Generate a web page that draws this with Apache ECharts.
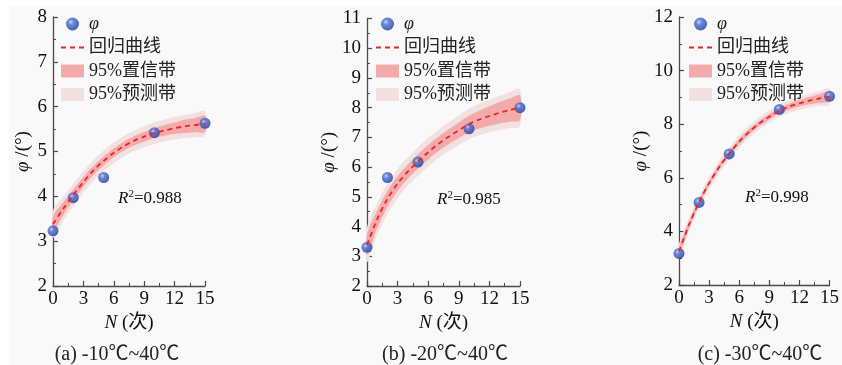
<!DOCTYPE html>
<html><head><meta charset="utf-8">
<script src="https://cdn.jsdelivr.net/npm/echarts@6/dist/echarts.min.js"></script>
<style>html,body{margin:0;padding:0;background:#fff;}#c{width:842px;height:365px;}</style>
</head><body><div id="c"></div>
<script>
// ---- data ----
const fitN = [0,1,2,3,4,5,6,7,8,9,10,11,12,13,14,15];
const ptN = [0,2,5,10,15];
const xTicks = [0,3,6,9,12,15];

const phiA = [3.23,3.97,4.42,5.42,5.63];
const curveA = [3.38,3.72,4.03,4.32,4.58,4.79,4.97,5.12,5.24,5.33,5.41,5.47,5.52,5.56,5.59,5.62];
const ciUpA = [3.55,3.86,4.15,4.43,4.68,4.89,5.07,5.22,5.34,5.44,5.52,5.59,5.65,5.71,5.75,5.80];
const ciLoA = [3.21,3.58,3.91,4.21,4.48,4.69,4.87,5.02,5.14,5.22,5.30,5.35,5.39,5.41,5.43,5.44];
const piUpA = [3.68,3.99,4.28,4.56,4.81,5.02,5.20,5.35,5.47,5.56,5.65,5.71,5.77,5.82,5.86,5.90];
const piLoA = [3.08,3.45,3.78,4.08,4.35,4.56,4.74,4.89,5.01,5.10,5.17,5.23,5.27,5.30,5.32,5.34];

const phiB = [3.30,5.65,6.17,7.29,8.00];
const curveB = [3.38,4.25,4.93,5.45,5.85,6.19,6.50,6.78,7.02,7.24,7.45,7.60,7.72,7.83,7.92,8.00];
const ciUpB = [3.73,4.55,5.20,5.70,6.09,6.43,6.74,7.02,7.27,7.50,7.73,7.90,8.05,8.19,8.31,8.42];
const ciLoB = [3.03,3.95,4.66,5.20,5.61,5.95,6.26,6.54,6.77,6.98,7.17,7.30,7.39,7.47,7.53,7.58];
const piUpB = [3.96,4.79,5.44,5.94,6.33,6.67,6.98,7.26,7.51,7.74,7.96,8.13,8.27,8.40,8.52,8.63];
const piLoB = [2.80,3.71,4.42,4.96,5.37,5.71,6.02,6.30,6.53,6.74,6.94,7.07,7.17,7.26,7.32,7.37];

const phiC = [3.18,5.08,6.89,8.55,9.04];
const curveC = [3.25,4.25,5.09,5.80,6.40,6.90,7.35,7.72,8.03,8.28,8.50,8.66,8.78,8.88,8.96,9.03];
const ciUpC = [3.40,4.38,5.20,5.90,6.50,7.00,7.45,7.82,8.13,8.38,8.60,8.77,8.90,9.02,9.12,9.21];
const ciLoC = [3.10,4.12,4.98,5.70,6.30,6.80,7.25,7.62,7.93,8.18,8.40,8.55,8.66,8.74,8.80,8.85];
const piUpC = [3.53,4.51,5.33,6.03,6.63,7.13,7.58,7.95,8.26,8.51,8.73,8.90,9.03,9.14,9.24,9.33];
const piLoC = [2.97,3.99,4.85,5.57,6.17,6.67,7.12,7.49,7.80,8.05,8.27,8.42,8.53,8.62,8.68,8.73];

const yRanges = [[2,8,1],[2,11,1],[2,12,2]];
const r2Labels = ['0.988','0.985','0.998'];
const captions = ['(a) -10℃~40℃','(b) -20℃~40℃','(c) -30℃~40℃'];
const legendNames = ['φ','回归曲线','95%置信带','95%预测带'];

// ---- build ----
const FONT = '"Liberation Serif","Noto Sans CJK SC",serif';
const panels = [
  {phi:phiA, curve:curveA, ciUp:ciUpA, ciLo:ciLoA, piUp:piUpA, piLo:piLoA},
  {phi:phiB, curve:curveB, ciUp:ciUpB, ciLo:ciLoB, piUp:piUpB, piLo:piLoB},
  {phi:phiC, curve:curveC, ciUp:ciUpC, ciLo:ciLoC, piUp:piUpC, piLo:piLoC}
];
const gridPos = [
  {left:53, top:17, width:152, height:269},
  {left:367, top:18.5, width:153, height:267.5},
  {left:679, top:17, width:153, height:268}
];
const legendPos = [{left:60, top:15},{left:375, top:15},{left:688, top:15}];
const r2Pos = [{left:118, top:189},{left:437, top:190},{left:745, top:188}];
const capPos = [117, 445, 760];

const axisColor = '#4a4a4a';
const grids = [], xAxes = [], yAxes = [], series = [], legends = [], titles = [];

function bandSeries(idx, name, lo, hi, color, z){
  return {
    type:'custom', name:name, xAxisIndex:idx, yAxisIndex:idx, z:z,
    itemStyle:{color:color},
    data: fitN.map((n,i)=>[n, lo[i], hi[i]]),
    encode:{x:0, y:[1,2]},
    silent:true,
    renderItem:function(params, api){
      if (params.dataIndex !== 0) return null;
      const pts = [];
      for (let i=0;i<fitN.length;i++) pts.push(api.coord([fitN[i], hi[i]]));
      for (let i=fitN.length-1;i>=0;i--) pts.push(api.coord([fitN[i], lo[i]]));
      return {type:'polygon', shape:{points:pts, smooth:0.3}, style:{fill:color}};
    }
  };
}

panels.forEach((p, k)=>{
  grids.push(Object.assign({containLabel:false}, gridPos[k]));
  xAxes.push({
    type:'value', gridIndex:k, min:0, max:15, interval:3,
    name:'{i|N} (次)', nameLocation:'middle', nameGap:27,
    nameTextStyle:{fontFamily:FONT, fontSize:19, color:'#111',
      rich:{i:{fontFamily:FONT, fontSize:19, fontStyle:'italic', color:'#111'}}},
    axisLine:{show:true, onZero:false, lineStyle:{color:axisColor, width:1.3}},
    axisTick:{show:true, inside:true, length:5, lineStyle:{color:axisColor, width:1.2}},
    minorTick:{show:true, splitNumber:2, length:3, lineStyle:{color:axisColor, width:1}},
    splitLine:{show:false},
    axisLabel:{fontFamily:FONT, fontSize:19, color:'#111', margin:4}
  });
  const yr = yRanges[k];
  yAxes.push({
    type:'value', gridIndex:k, min:yr[0], max:yr[1], interval:yr[2],
    name:'{i|φ} /(°)', nameLocation:'middle', nameGap:20, nameRotate:90,
    nameTextStyle:{fontFamily:FONT, fontSize:19, color:'#111',
      rich:{i:{fontFamily:FONT, fontSize:19, fontStyle:'italic', color:'#111'}}},
    axisLine:{show:true, onZero:false, lineStyle:{color:axisColor, width:1.3}},
    axisTick:{show:true, inside:true, length:5, lineStyle:{color:axisColor, width:1.2}},
    minorTick:{show:true, splitNumber:2, length:3, lineStyle:{color:axisColor, width:1}},
    splitLine:{show:false},
    axisLabel:{fontFamily:FONT, fontSize:19, color:'#111', margin:6}
  });
  series.push(bandSeries(k, legendNames[3], p.piLo, p.piUp, '#f2e1e1', 1));
  series.push(bandSeries(k, legendNames[2], p.ciLo, p.ciUp, '#f5aaaa', 2));
  series.push({
    type:'scatter', name:legendNames[0], xAxisIndex:k, yAxisIndex:k, z:3,
    symbolSize:11,
    itemStyle:{color:{type:'radial', x:0.38, y:0.35, r:0.65,
      colorStops:[{offset:0,color:'#c4d6f7'},{offset:0.3,color:'#4a70d6'},{offset:1,color:'#1e3d9e'}]}},
    data: ptN.map((n,i)=>[n, p.phi[i]])
  });
  series.push({
    type:'line', name:legendNames[1], xAxisIndex:k, yAxisIndex:k, z:4,
    smooth:0.3, symbol:'none', showSymbol:false,
    lineStyle:{color:'#e8262a', width:1.8, type:[5,4]},
    itemStyle:{color:'#e8262a'},
    data: fitN.map((n,i)=>[n, p.curve[i]])
  });
  legends.push(Object.assign({
    orient:'vertical', itemWidth:23, itemHeight:13, itemGap:5.5, padding:0,
    textStyle:{fontFamily:FONT, fontSize:18, color:'#222', lineHeight:16},
    data:[
      {name:legendNames[0], icon:'circle', textStyle:{fontStyle:'italic', fontFamily:FONT, fontSize:18, color:'#222'}},
      {name:legendNames[1], itemStyle:{color:'rgba(0,0,0,0)', opacity:0, borderWidth:0}},
      {name:legendNames[2], icon:'rect'},
      {name:legendNames[3], icon:'rect'}
    ],
    selectedMode:false
  }, legendPos[k]));
  titles.push(Object.assign({
    text:'{r|R}{s|2}{n|=' + r2Labels[k] + '}', padding:0,
    textStyle:{fontWeight:'normal', rich:{
      r:{fontFamily:FONT, fontSize:17, fontStyle:'italic', fontWeight:'normal', color:'#111'},
      s:{fontFamily:FONT, fontSize:11, fontWeight:'normal', color:'#111', padding:[0,0,8,0]},
      n:{fontFamily:FONT, fontSize:17, fontWeight:'normal', color:'#111'}
    }}
  }, r2Pos[k]));
  titles.push({
    text:captions[k], left:capPos[k], top:345, textAlign:'center', padding:0,
    textStyle:{fontFamily:FONT, fontSize:20, fontWeight:'normal', color:'#222'}
  });
});

const chart = echarts.init(document.getElementById('c'), null, {renderer:'canvas'});
chart.setOption({
  animation:false,
  backgroundColor:'#ffffff',
  graphic:[{type:'rect', z:-10, silent:true, shape:{x:9, y:6, width:833, height:359}, style:{fill:'#f9f9f9'}}],
  grid:grids, xAxis:xAxes, yAxis:yAxes, series:series, legend:legends, title:titles
});
</script>
</body></html>
